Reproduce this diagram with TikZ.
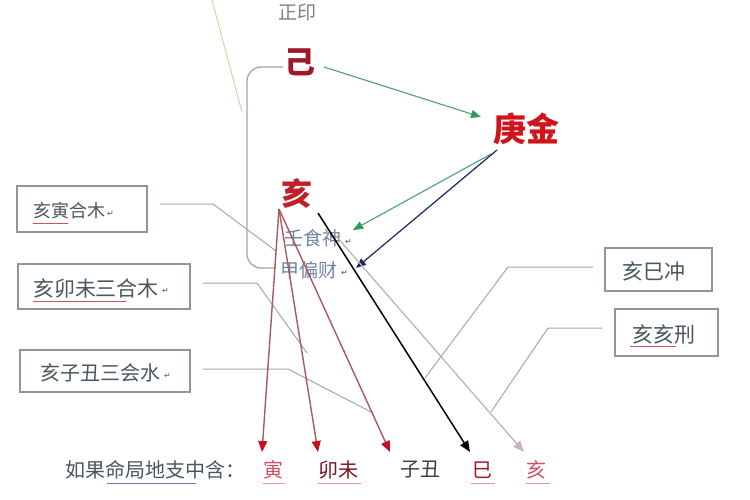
\documentclass[tikz,border=0pt]{standalone}
\usepackage{fontspec}
\setmainfont{Noto Sans CJK SC}
\newfontfamily\symfont{DejaVu Sans}
\usetikzlibrary{arrows.meta}
\definecolor{jired}{HTML}{A01828}
\definecolor{gengred}{HTML}{D0141C}
\definecolor{haired}{HTML}{C0202A}
\definecolor{boxgray}{HTML}{8E9696}
\definecolor{boxink}{HTML}{4A5660}
\definecolor{conngray}{HTML}{A4A8A8}
\definecolor{greenln}{HTML}{4AA078}
\definecolor{greentip}{HTML}{2E9A60}
\definecolor{navy}{HTML}{1A2466}
\definecolor{redln}{HTML}{A85A5E}
\definecolor{redtip}{HTML}{C41020}
\definecolor{grayln}{HTML}{B8B8B8}
\definecolor{graytip}{HTML}{CCB4BC}
\definecolor{hidink}{HTML}{7484A4}
\definecolor{tan}{HTML}{DAD2A6}
\definecolor{squig}{HTML}{D05060}
\definecolor{blueline}{HTML}{6A7AA0}
\begin{document}
\begin{tikzpicture}[x=1pt,y=-1pt,
  every node/.style={inner sep=0pt,outer sep=0pt},
  bigchar/.style={font=\fontsize{31}{31}\selectfont\bfseries},
  boxframe/.style={draw=boxgray,line width=1.4pt,anchor=north west},
  boxtext/.style={font=\fontsize{19}{19}\selectfont,text=boxink,anchor=west},
  hidtext/.style={font=\fontsize{19}{19}\selectfont,text=hidink},
  bottomtext/.style={font=\fontsize{20}{20}\selectfont,anchor=west},
  conn/.style={draw=conngray,line width=1pt},
  parmark/.style={font=\symfont\fontsize{8}{8}\selectfont,text=boxink,anchor=west},
  greenarr/.style={draw=greenln,line width=1.1pt,-{Triangle[length=10pt,width=8pt,color=greentip]}},
  navyarr/.style={draw=navy,line width=1.2pt,-{Triangle[length=10pt,width=8pt,color=navy]}},
  redarr/.style={draw=redln,line width=1.4pt,-{Triangle[length=11pt,width=9pt,color=redtip]}},
  blackarr/.style={draw=black,line width=1.5pt,-{Triangle[length=11pt,width=9pt,color=black]}},
  grayarr/.style={draw=grayln,line width=1.3pt,-{Triangle[length=11pt,width=9pt,color=graytip]}},
  squigline/.style={draw=squig,line width=0.8pt}
]
\useasboundingbox (0,0) rectangle (750,500);
\fill[white] (0,0) rectangle (750,500);

% tan line at the top left
\coordinate (tanA) at (212,0);
\coordinate (tanB) at (242,112);
\draw[draw=tan,line width=1pt] (tanA) -- (tanB);

% main characters
\node[font=\fontsize{19}{19}\selectfont,text=gray] (zhengyin) at (297,12) {正印};
\node[bigchar,text=jired] (ji) at (300,62) {己};
\node[bigchar,font=\fontsize{33}{33}\selectfont\bfseries,text=gengred] (gengjin) at (526,129) {庚金};
\node[bigchar,text=haired] (hai) at (297,194) {亥};
\node[hidtext] (ren) at (313,238) {壬食神};
\node[parmark] (renmark) at (345,242) {↵};
\node[hidtext] (jia) at (309,270) {甲偏财};
\node[parmark] (jiamark) at (341,273) {↵};

% bracket
\coordinate (brA) at (283,67);
\coordinate (brB) at (247,67);
\coordinate (brC) at (247,268);
\coordinate (brD) at (276,268);
\draw[draw=conngray,line width=1.3pt,rounded corners=14pt] (brA) -- (brB) -- (brC) -- (brD);

% left boxes
\node[boxframe,minimum width=130pt,minimum height=46pt] (box1) at (17,186) {};
\node[boxtext,font=\fontsize{18}{18}\selectfont] (t1) at (33,211) {亥寅合木};
\node[parmark] (m1) at (107,214) {↵};
\node[boxframe,minimum width=172pt,minimum height=45pt] (box2) at (18,264) {};
\node[boxtext,font=\fontsize{21}{21}\selectfont] (t2) at (33,288) {亥卯未三合木};
\node[parmark] (m2) at (162,291) {↵};
\node[boxframe,minimum width=170pt,minimum height=42pt] (box3) at (20,350) {};
\node[boxtext,font=\fontsize{20}{20}\selectfont] (t3) at (40,373) {亥子丑三会水};
\node[parmark] (m3) at (164,376) {↵};

% right boxes
\node[boxframe,minimum width=107pt,minimum height=43pt] (box4) at (605,248) {};
\node[boxtext,font=\fontsize{21}{21}\selectfont] (t4) at (622,271) {亥巳冲};
\node[boxframe,minimum width=103pt,minimum height=47pt] (box5) at (615,309) {};
\node[boxtext,font=\fontsize{21}{21}\selectfont] (t5) at (632,334) {亥亥刑};

% spell-check underlines
\draw[squigline] (33,223) -- (68,223);
\draw[squigline] (33,301) -- (126,301);
\draw[squigline] (630,346) -- (676,346);

% bottom line of text
\node[bottomtext,text=boxink] (intro) at (65,470) {如果命局地支中含：};
\node[bottomtext,text=squig] (yin) at (263,470) {寅};
\node[bottomtext,text=jired!80!black] (maowei) at (318,470) {卯未};
\node[bottomtext,text=black!75] (zichou) at (400,470) {子丑};
\node[bottomtext,text=jired] (si) at (472,470) {巳};
\node[bottomtext,text=squig] (haib) at (526,470) {亥};
\draw[draw=blueline,line width=0.8pt] (107,483) -- (196,483);
\draw[squigline,draw=squig!60] (263,483) -- (285,483);
\draw[squigline,draw=squig!60] (318,483) -- (361,483);
\draw[squigline,draw=squig!60] (471,483) -- (495,483);
\draw[squigline,draw=squig!60] (526,483) -- (550,483);

% connectors from the boxes
\coordinate (c1a) at (160,204);
\coordinate (c1b) at (213,204);
\coordinate (c1c) at (276,251);
\draw[conn] (c1a) -- (c1b) -- (c1c);
\coordinate (c2a) at (203,283);
\coordinate (c2b) at (257,283);
\coordinate (c2c) at (307,353);
\draw[conn] (c2a) -- (c2b) -- (c2c);
\coordinate (c3a) at (203,369);
\coordinate (c3b) at (288,369);
\coordinate (c3c) at (373,413);
\draw[conn] (c3a) -- (c3b) -- (c3c);
\coordinate (c4a) at (593,267);
\coordinate (c4b) at (508,267);
\coordinate (c4c) at (425,378);
\draw[conn] (c4a) -- (c4b) -- (c4c);
\coordinate (c5a) at (602,328);
\coordinate (c5b) at (548,328);
\coordinate (c5c) at (491,412);
\draw[conn] (c5a) -- (c5b) -- (c5c);

% arrows
\coordinate (jiR) at (324,67);
\coordinate (gengTip) at (481,117);
\draw[greenarr] (jiR) -- (gengTip);
\coordinate (gengA) at (491,154);
\coordinate (renTip) at (353,230);
\draw[greenarr] (gengA) -- (renTip);
\coordinate (gengB) at (497,150);
\coordinate (jiaTip) at (356,268);
\draw[navyarr] (gengB) -- (jiaTip);

\coordinate (haiFoot) at (279,209);
\coordinate (toYin) at (262,452);
\coordinate (toMao) at (318,452);
\coordinate (toZi) at (390,452);
\draw[redarr] (haiFoot) -- (toYin);
\draw[redarr] (haiFoot) -- (toMao);
\draw[redarr] (haiFoot) -- (toZi);

\coordinate (haiR) at (318,213);
\coordinate (toSi) at (470,452);
\draw[blackarr] (haiR) -- (toSi);
\coordinate (haiR2) at (336,236);
\coordinate (toHai) at (524,452);
\draw[grayarr] (haiR2) -- (toHai);
\end{tikzpicture}
\end{document}
